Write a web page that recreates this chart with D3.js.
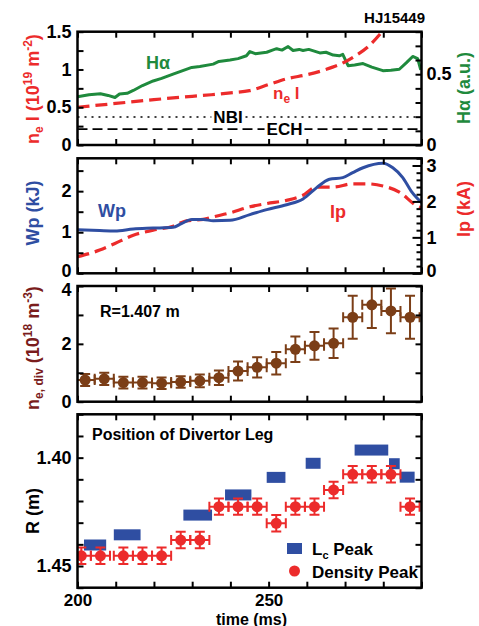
<!DOCTYPE html>
<html>
<head>
<meta charset="utf-8">
<script src="https://cdn.jsdelivr.net/npm/d3@7"></script>
<style>
  body { margin: 0; background: #fff; }
  svg text { font-family: "Liberation Sans", Arial, sans-serif; font-weight: bold; }
</style>
</head>
<body>
<svg id="chart" width="479" height="626"></svg>
<script>
// ---- data (shot HJ15449) ----
const shotLabel = 'HJ15449';
const timeDomain = [200, 290];

// panel 1: line-integrated density (left) and H-alpha (right)
const nelTime  = [200, 210, 220, 230, 235, 240, 245, 250, 255, 260, 265, 270, 273, 276, 279, 282];
const nelValue = [0.50, 0.55, 0.60, 0.645, 0.665, 0.69, 0.72, 0.80, 0.88, 0.93, 1.00, 1.10, 1.19, 1.30, 1.46, 1.65];
const haTime  = [200, 203, 206, 208, 209.8, 211, 213, 214.6, 217, 219.8, 222, 225, 227, 229.9, 232, 235.5, 237, 239.9, 242, 244.2, 245.1, 246.5, 249.5, 251, 252.1, 253.5, 255.1, 256.4, 258, 259, 260.5, 263.4, 265, 266.9, 268.5, 269.4, 270.8, 272.5, 274.7, 277, 279.9, 282, 284.2, 286, 287.7, 289, 289.8];
const haValue = [0.34, 0.355, 0.362, 0.35, 0.335, 0.36, 0.365, 0.385, 0.42, 0.452, 0.47, 0.50, 0.52, 0.548, 0.555, 0.571, 0.59, 0.60, 0.61, 0.63, 0.66, 0.645, 0.655, 0.67, 0.68, 0.67, 0.695, 0.667, 0.675, 0.667, 0.675, 0.65, 0.655, 0.635, 0.63, 0.64, 0.56, 0.565, 0.575, 0.55, 0.525, 0.528, 0.535, 0.58, 0.625, 0.61, 0.53];
const nbiTime = [200, 290], nbiValue = [0.37, 0.37];
const echTime = [200, 290], echValue = [0.21, 0.21];

// panel 2: stored energy (left) and plasma current (right)
const wpTime  = [200, 205.8, 209.8, 214.6, 219.8, 225, 227.2, 229.9, 232.9, 235.5, 239.9, 245.1, 249.5, 254.7, 259, 262.5, 265.9, 269.4, 272, 274.7, 279.9, 282.5, 285.1, 287.3, 290];
const wpValue = [1.06, 1.04, 1.03, 1.08, 1.10, 1.12, 1.21, 1.31, 1.31, 1.28, 1.29, 1.43, 1.55, 1.67, 1.81, 2.08, 2.29, 2.33, 2.45, 2.57, 2.68, 2.57, 2.33, 2.0, 1.72];
const ipTime  = [200, 205.8, 209.8, 214.6, 219.8, 225, 228.5, 232.9, 235.5, 239.9, 245.1, 249.5, 254.7, 259, 262.5, 266.9, 272, 275.6, 279.9, 284.2, 288.6, 290];
const ipValue = [0.46, 0.645, 0.83, 1.06, 1.2, 1.31, 1.46, 1.5, 1.57, 1.68, 1.85, 1.94, 2.03, 2.17, 2.4, 2.4, 2.49, 2.49, 2.43, 2.26, 1.89, 1.82];

// panel 3: divertor density at R=1.407 m
const nedTime  = [202, 207, 212, 217, 222, 227, 232, 237, 242, 247, 252, 257, 262, 267, 272, 277, 282, 287];
const nedValue = [0.75, 0.79, 0.66, 0.66, 0.64, 0.68, 0.72, 0.83, 1.06, 1.19, 1.33, 1.81, 1.93, 2.02, 2.92, 3.35, 3.14, 2.92];
const nedError = [0.21, 0.21, 0.2, 0.2, 0.2, 0.2, 0.22, 0.25, 0.33, 0.35, 0.39, 0.44, 0.48, 0.51, 0.74, 0.8, 0.77, 0.74];
const timeError = 2.5;

// panel 4: divertor leg position
const dpTime = [201, 206, 212, 217, 222, 227, 232, 237, 242, 247, 252, 257, 262, 267, 272, 277, 282, 287];
const dpR    = [1.4453, 1.4453, 1.4453, 1.4453, 1.4453, 1.438, 1.438, 1.4226, 1.4226, 1.4226, 1.4303, 1.4226, 1.4226, 1.4149, 1.4077, 1.4077, 1.4077, 1.4226];
const dpError = 0.0038;
const lcStart = [201.7, 209.5, 227.7, 238.6, 249.5, 259.7, 272.5, 281.5, 284.3];
const lcEnd   = [207.5, 216.5, 235.2, 245.5, 254.4, 263.6, 281.3, 284.3, 288.2];
const lcR     = [1.4403, 1.4356, 1.4265, 1.4172, 1.4091, 1.4026, 1.3965, 1.4028, 1.409];

// ---- colours ----
const RED = '#ec2b2b', GREEN = '#1f8a3d', BLUE = '#2f4ea2', BROWN = '#7b3e17', DARKRED = '#7a1c1c';

const svg = d3.select('#chart');
const x = d3.scaleLinear().domain(timeDomain).range([77.5, 421.5]);
const xTicks = d3.range(200, 291, 10);

const near = (arr, v) => arr.some(a => Math.abs(a - v) < 1e-6);

function drawFrame(id, yL, yR, o) {
  const top = d3.min(yL.range()), bottom = d3.max(yL.range());
  svg.append('clipPath').attr('id', id).append('rect')
    .attr('x', x.range()[0]).attr('y', top)
    .attr('width', x.range()[1] - x.range()[0]).attr('height', bottom - top);

  const g = svg.append('g').attr('class', 'axes');
  const bx = g.append('g').attr('transform', `translate(0,${bottom})`)
    .call(d3.axisBottom(x).tickValues(xTicks).tickSize(-6).tickPadding(6)
      .tickFormat(d => (o.xLabels && (d === 200 || d === 250)) ? d : ''));
  g.append('g').attr('transform', `translate(0,${top})`)
    .call(d3.axisTop(x).tickValues(xTicks).tickSize(-6).tickFormat(''));
  g.append('g').attr('transform', `translate(${x.range()[0]},0)`)
    .call(d3.axisLeft(yL).tickValues(o.leftTicks).tickSize(-6).tickPadding(6)
      .tickFormat(d => near(o.leftLabels, d) ? o.fmtL(d) : ''));
  const yr = yR || yL;
  const right = g.append('g').attr('transform', `translate(${x.range()[1]},0)`)
    .call(d3.axisRight(yr).tickValues(o.rightTicks).tickSize(-6).tickPadding(5)
      .tickFormat(d => (o.rightLabels && near(o.rightLabels, d)) ? o.fmtR(d) : ''));
  if (o.rightMajor) {
    right.selectAll('.tick line').attr('x2', d => near(o.rightMajor, d) ? -9 : -5);
  }
  g.selectAll('.domain').remove();
  g.selectAll('.tick line').attr('stroke', '#000').attr('stroke-width', 2);
  g.selectAll('.tick text').attr('font-size', 18).attr('fill', '#000');
  bx.selectAll('.tick text').attr('font-size', 17);

  svg.append('rect').attr('x', x.range()[0]).attr('y', top)
    .attr('width', x.range()[1] - x.range()[0]).attr('height', bottom - top)
    .attr('fill', 'none').attr('stroke', '#000').attr('stroke-width', 2.5);
  return g;
}

function rotLabel(cx, cy, color, parts) {
  const t = svg.append('text').attr('transform', `translate(${cx},${cy}) rotate(-90)`)
    .attr('text-anchor', 'middle').attr('fill', color).attr('font-size', 18);
  parts.forEach(p => {
    const s = t.append('tspan').text(p[0]);
    if (p[1]) s.attr('dy', p[1]);
    if (p[2]) s.attr('font-size', p[2]);
  });
}

function lineOf(xs, ys, yScale, curve) {
  return d3.line().x((d, i) => x(xs[i])).y((d, i) => yScale(ys[i])).curve(curve || d3.curveLinear)(xs);
}

// ================= panel 1 =================
const y1 = d3.scaleLinear().domain([0, 1.5]).range([145, 31.7]);
const y1r = d3.scaleLinear().domain([0, 0.8]).range([145, 31.7]);
const p1 = svg.append('g').attr('clip-path', 'url(#c1)');
p1.append('path').attr('d', lineOf(nbiTime, nbiValue, y1)).attr('stroke', '#000')
  .attr('stroke-width', 1.6).attr('stroke-dasharray', '2,5').attr('fill', 'none');
p1.append('path').attr('d', lineOf(echTime, echValue, y1)).attr('stroke', '#000')
  .attr('stroke-width', 1.6).attr('stroke-dasharray', '10,5').attr('fill', 'none');
p1.append('path').attr('d', lineOf(haTime, haValue, y1r)).attr('stroke', GREEN)
  .attr('stroke-width', 3).attr('fill', 'none').attr('stroke-linejoin', 'round');
p1.append('path').attr('d', lineOf(nelTime, nelValue, y1, d3.curveMonotoneX)).attr('stroke', RED)
  .attr('stroke-width', 3.2).attr('stroke-dasharray', '12,6').attr('fill', 'none');
// NBI / ECH labels on white backing
[['NBI', 228, y1(nbiValue[0])], ['ECH', 284.5, y1(echValue[0])]].forEach(([s, cx, cy]) => {
  const tx = p1.append('text').attr('x', cx).attr('y', cy + 6).attr('text-anchor', 'middle')
    .attr('font-size', 17).attr('fill', '#000').text(s);
  const b = tx.node().getBBox();
  p1.insert('rect', () => tx.node()).attr('x', b.x - 2).attr('y', cy - 2)
    .attr('width', b.width + 4).attr('height', 4).attr('fill', '#fff');
});
drawFrame('c1', y1, y1r, {
  leftTicks: d3.range(0, 1.51, 0.25), leftLabels: [0, 0.5, 1, 1.5], fmtL: d3.format('~g'),
  rightTicks: d3.range(0, 0.81, 0.1), rightLabels: [0, 0.5], fmtR: d3.format('~g')
});
svg.append('text').attr('x', 146).attr('y', 69).attr('font-size', 18).attr('fill', GREEN).text('Hα');
const nl = svg.append('text').attr('x', 273).attr('y', 99).attr('font-size', 17).attr('fill', RED);
nl.append('tspan').text('n');
nl.append('tspan').text('e').attr('font-size', 12).attr('dy', 4);
nl.append('tspan').text(' l').attr('dy', -4);
svg.append('text').attr('x', 425).attr('y', 23).attr('text-anchor', 'end').attr('font-size', 15)
  .attr('fill', '#000').text(shotLabel);
rotLabel(39, 89, RED, [['n'], ['e', 4, 12], [' l (10', -4], ['19', -7, 12], [' m', 7], ['-2', -7, 12], [')', 7]]);
rotLabel(470, 88, GREEN, [['Hα (a.u.)']]);

// ================= panel 2 =================
const y2 = d3.scaleLinear().domain([0, 2.8]).range([273.3, 158.3]);
const y2r = d3.scaleLinear().domain([0, 3.2]).range([273.3, 158.3]);
const p2 = svg.append('g').attr('clip-path', 'url(#c2)');
p2.append('path').attr('d', lineOf(ipTime, ipValue, y2r, d3.curveMonotoneX)).attr('stroke', RED)
  .attr('stroke-width', 3.2).attr('stroke-dasharray', '12,6').attr('fill', 'none');
p2.append('path').attr('d', lineOf(wpTime, wpValue, y2, d3.curveMonotoneX)).attr('stroke', BLUE)
  .attr('stroke-width', 3).attr('fill', 'none');
const a2 = drawFrame('c2', y2, y2r, {
  leftTicks: d3.range(0, 2.76, 0.5), leftLabels: [0, 1, 2], fmtL: d3.format('~g'),
  rightTicks: d3.range(0, 3.21, 0.2), rightLabels: [0, 1, 2, 3], fmtR: d3.format('~g'),
  rightMajor: [0, 1, 2, 3]
});
// bottom "0" labels sit tight against the next panel, as in the original
a2.selectAll('.tick text').filter(d => d === 0).attr('dy', '0.2em');
svg.append('text').attr('x', 98).attr('y', 217).attr('font-size', 18).attr('fill', BLUE).text('Wp');
svg.append('text').attr('x', 330).attr('y', 218).attr('font-size', 18).attr('fill', RED).text('Ip');
rotLabel(39, 213, BLUE, [['Wp (kJ)']]);
rotLabel(470, 209, RED, [['Ip (kA)']]);

// ================= panel 3 =================
const y3 = d3.scaleLinear().domain([0, 4]).range([401.7, 286]);
const p3 = svg.append('g').attr('clip-path', 'url(#c3)');
const ned = nedTime.map((t, i) => ({ t, v: nedValue[i], e: nedError[i] }));
const eb3 = p3.selectAll('g.eb').data(ned).join('g').attr('stroke', BROWN).attr('stroke-width', 2);
eb3.append('line').attr('x1', d => x(d.t)).attr('x2', d => x(d.t))
  .attr('y1', d => y3(d.v - d.e)).attr('y2', d => y3(d.v + d.e));
eb3.append('line').attr('x1', d => x(d.t) - 5).attr('x2', d => x(d.t) + 5)
  .attr('y1', d => y3(d.v - d.e)).attr('y2', d => y3(d.v - d.e));
eb3.append('line').attr('x1', d => x(d.t) - 5).attr('x2', d => x(d.t) + 5)
  .attr('y1', d => y3(d.v + d.e)).attr('y2', d => y3(d.v + d.e));
eb3.append('line').attr('x1', d => x(d.t - timeError)).attr('x2', d => x(d.t + timeError))
  .attr('y1', d => y3(d.v)).attr('y2', d => y3(d.v));
eb3.append('line').attr('x1', d => x(d.t - timeError)).attr('x2', d => x(d.t - timeError))
  .attr('y1', d => y3(d.v) - 5).attr('y2', d => y3(d.v) + 5);
eb3.append('line').attr('x1', d => x(d.t + timeError)).attr('x2', d => x(d.t + timeError))
  .attr('y1', d => y3(d.v) - 5).attr('y2', d => y3(d.v) + 5);
p3.selectAll('circle').data(ned).join('circle')
  .attr('cx', d => x(d.t)).attr('cy', d => y3(d.v)).attr('r', 5.5).attr('fill', BROWN);
const a3 = drawFrame('c3', y3, null, {
  leftTicks: d3.range(0, 4.01, 1), leftLabels: [0, 2, 4], fmtL: d3.format('~g'),
  rightTicks: d3.range(0, 4.01, 1)
});
a3.selectAll('.tick text').filter(d => d === 4).attr('dy', '0.5em');
svg.append('text').attr('x', 100).attr('y', 317).attr('font-size', 16).attr('fill', '#000').text('R=1.407 m');
rotLabel(39, 348, DARKRED, [['n'], ['e, div', 4, 12], [' (10', -4], ['18', -7, 12], [' m', 7], ['-3', -7, 12], [')', 7]]);

// ================= panel 4 =================
const y4 = d3.scaleLinear().domain([1.46, 1.38]).range([587.7, 414.3]);
const p4 = svg.append('g').attr('clip-path', 'url(#c4)');
const lc = lcStart.map((s, i) => ({ s, e: lcEnd[i], r: lcR[i] }));
p4.selectAll('rect.lc').data(lc).join('rect').attr('class', 'lc')
  .attr('x', d => x(d.s)).attr('width', d => x(d.e) - x(d.s))
  .attr('y', d => y4(d.r) - 5.5).attr('height', 11).attr('fill', BLUE);
const dp = dpTime.map((t, i) => ({ t, r: dpR[i] }));
const eb4 = p4.selectAll('g.eb').data(dp).join('g').attr('stroke', RED).attr('stroke-width', 2);
eb4.append('line').attr('x1', d => x(d.t)).attr('x2', d => x(d.t))
  .attr('y1', d => y4(d.r - dpError)).attr('y2', d => y4(d.r + dpError));
eb4.append('line').attr('x1', d => x(d.t) - 5).attr('x2', d => x(d.t) + 5)
  .attr('y1', d => y4(d.r - dpError)).attr('y2', d => y4(d.r - dpError));
eb4.append('line').attr('x1', d => x(d.t) - 5).attr('x2', d => x(d.t) + 5)
  .attr('y1', d => y4(d.r + dpError)).attr('y2', d => y4(d.r + dpError));
eb4.append('line').attr('x1', d => x(d.t - timeError)).attr('x2', d => x(d.t + timeError))
  .attr('y1', d => y4(d.r)).attr('y2', d => y4(d.r));
eb4.append('line').attr('x1', d => x(d.t - timeError)).attr('x2', d => x(d.t - timeError))
  .attr('y1', d => y4(d.r) - 5).attr('y2', d => y4(d.r) + 5);
eb4.append('line').attr('x1', d => x(d.t + timeError)).attr('x2', d => x(d.t + timeError))
  .attr('y1', d => y4(d.r) - 5).attr('y2', d => y4(d.r) + 5);
p4.selectAll('circle').data(dp).join('circle')
  .attr('cx', d => x(d.t)).attr('cy', d => y4(d.r)).attr('r', 5.5).attr('fill', RED);
drawFrame('c4', y4, null, {
  xLabels: true,
  leftTicks: d3.range(1.38, 1.4601, 0.01), leftLabels: [1.40, 1.45], fmtL: d3.format('.2f'),
  rightTicks: d3.range(1.38, 1.4601, 0.01)
});
svg.append('text').attr('x', 92).attr('y', 440).attr('font-size', 16).attr('fill', '#000').text('Position of Divertor Leg');
// legend
svg.append('rect').attr('x', 287).attr('y', 543).attr('width', 15).attr('height', 11).attr('fill', BLUE);
const lt = svg.append('text').attr('x', 312).attr('y', 555).attr('font-size', 17).attr('fill', '#000');
lt.append('tspan').text('L');
lt.append('tspan').text('c').attr('font-size', 11).attr('dy', 4);
lt.append('tspan').text(' Peak').attr('dy', -4);
svg.append('circle').attr('cx', 294.5).attr('cy', 571).attr('r', 5.5).attr('fill', RED);
svg.append('text').attr('x', 312).attr('y', 578).attr('font-size', 17).attr('fill', '#000').text('Density Peak');
svg.append('text').attr('x', (x.range()[0] + x.range()[1]) / 2 + 2).attr('y', 624.5).attr('text-anchor', 'middle')
  .attr('font-size', 16).attr('fill', '#000').text('time (ms)');
rotLabel(39, 511, '#000', [['R (m)']]);
</script>
</body>
</html>
